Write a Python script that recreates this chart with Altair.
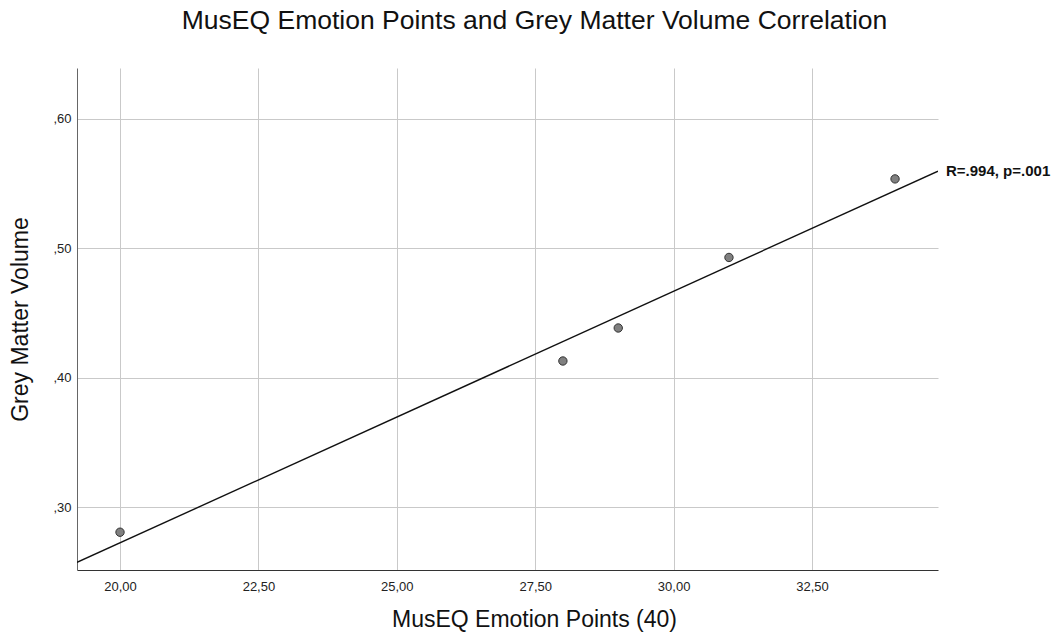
import altair as alt
import pandas as pd

emotion_points = [20, 28, 29, 31, 34]
grey_matter = [0.2807, 0.4130, 0.4385, 0.4930, 0.5537]
x_ticks = [20.0, 22.5, 25.0, 27.5, 30.0, 32.5]
y_ticks = [0.30, 0.40, 0.50, 0.60]
x_domain = [19.223, 34.776]
y_domain = [0.2515, 0.6394]
label_text = "R=.994, p=.001"

df = pd.DataFrame({"x": emotion_points, "y": grey_matter})

FONT = "Liberation Sans"

x_enc = alt.X("x:Q", scale=alt.Scale(domain=x_domain, nice=False, zero=False),
              axis=alt.Axis(values=x_ticks, labelExpr="replace(format(datum.value, '.2f'), '.', ',')",
                            title="MusEQ Emotion Points (40)", grid=True, ticks=False,
                            labelPadding=10, titlePadding=15, titleFontSize=23,
                            titleX=457, titleAlign="center",
                            titleFontWeight="normal", labelFontSize=13, labelColor="#222",
                            titleColor="#111", domainColor="#333", gridColor="#c9c9c9",
                            labelFont=FONT, titleFont=FONT))
y_enc = alt.Y("y:Q", scale=alt.Scale(domain=y_domain, nice=False, zero=False),
              axis=alt.Axis(values=y_ticks, labelExpr="replace(format(datum.value, '.2f'), '0.', ',')",
                            title="Grey Matter Volume", grid=True, ticks=False,
                            labelPadding=6, titlePadding=20, titleFontSize=23,
                            titleFontWeight="normal", labelFontSize=13, labelColor="#222",
                            titleColor="#111", domainColor="#666", gridColor="#c9c9c9",
                            labelFont=FONT, titleFont=FONT))

base = alt.Chart(df)

points = base.mark_point(filled=True, size=70, color="#808080", stroke="#333",
                         strokeWidth=1, opacity=1).encode(x=x_enc, y=y_enc)

reg = base.transform_regression("x", "y", extent=x_domain)

line = reg.mark_line(color="#111", strokeWidth=1.4, clip=True).encode(x="x:Q", y="y:Q")

label = reg.transform_filter(alt.datum.x > 30).mark_text(
    align="left", baseline="middle", dx=8, fontSize=15, fontWeight="bold",
    font=FONT, color="#111").encode(x="x:Q", y="y:Q", text=alt.value(label_text))

chart = alt.layer(points, line, label).properties(
    width=861, height=502,
    title=alt.TitleParams("MusEQ Emotion Points and Grey Matter Volume Correlation",
                          fontSize=26.5, font=FONT, fontWeight="normal", color="#111",
                          anchor="middle", dx=27, offset=34),
    autosize=alt.AutoSizeParams(type="none"),
    padding={"left": 77, "top": 68, "right": 122, "bottom": 67},
).configure_view(stroke=None)

chart.save("out.html", embed_options={"renderer": "svg", "actions": False})
